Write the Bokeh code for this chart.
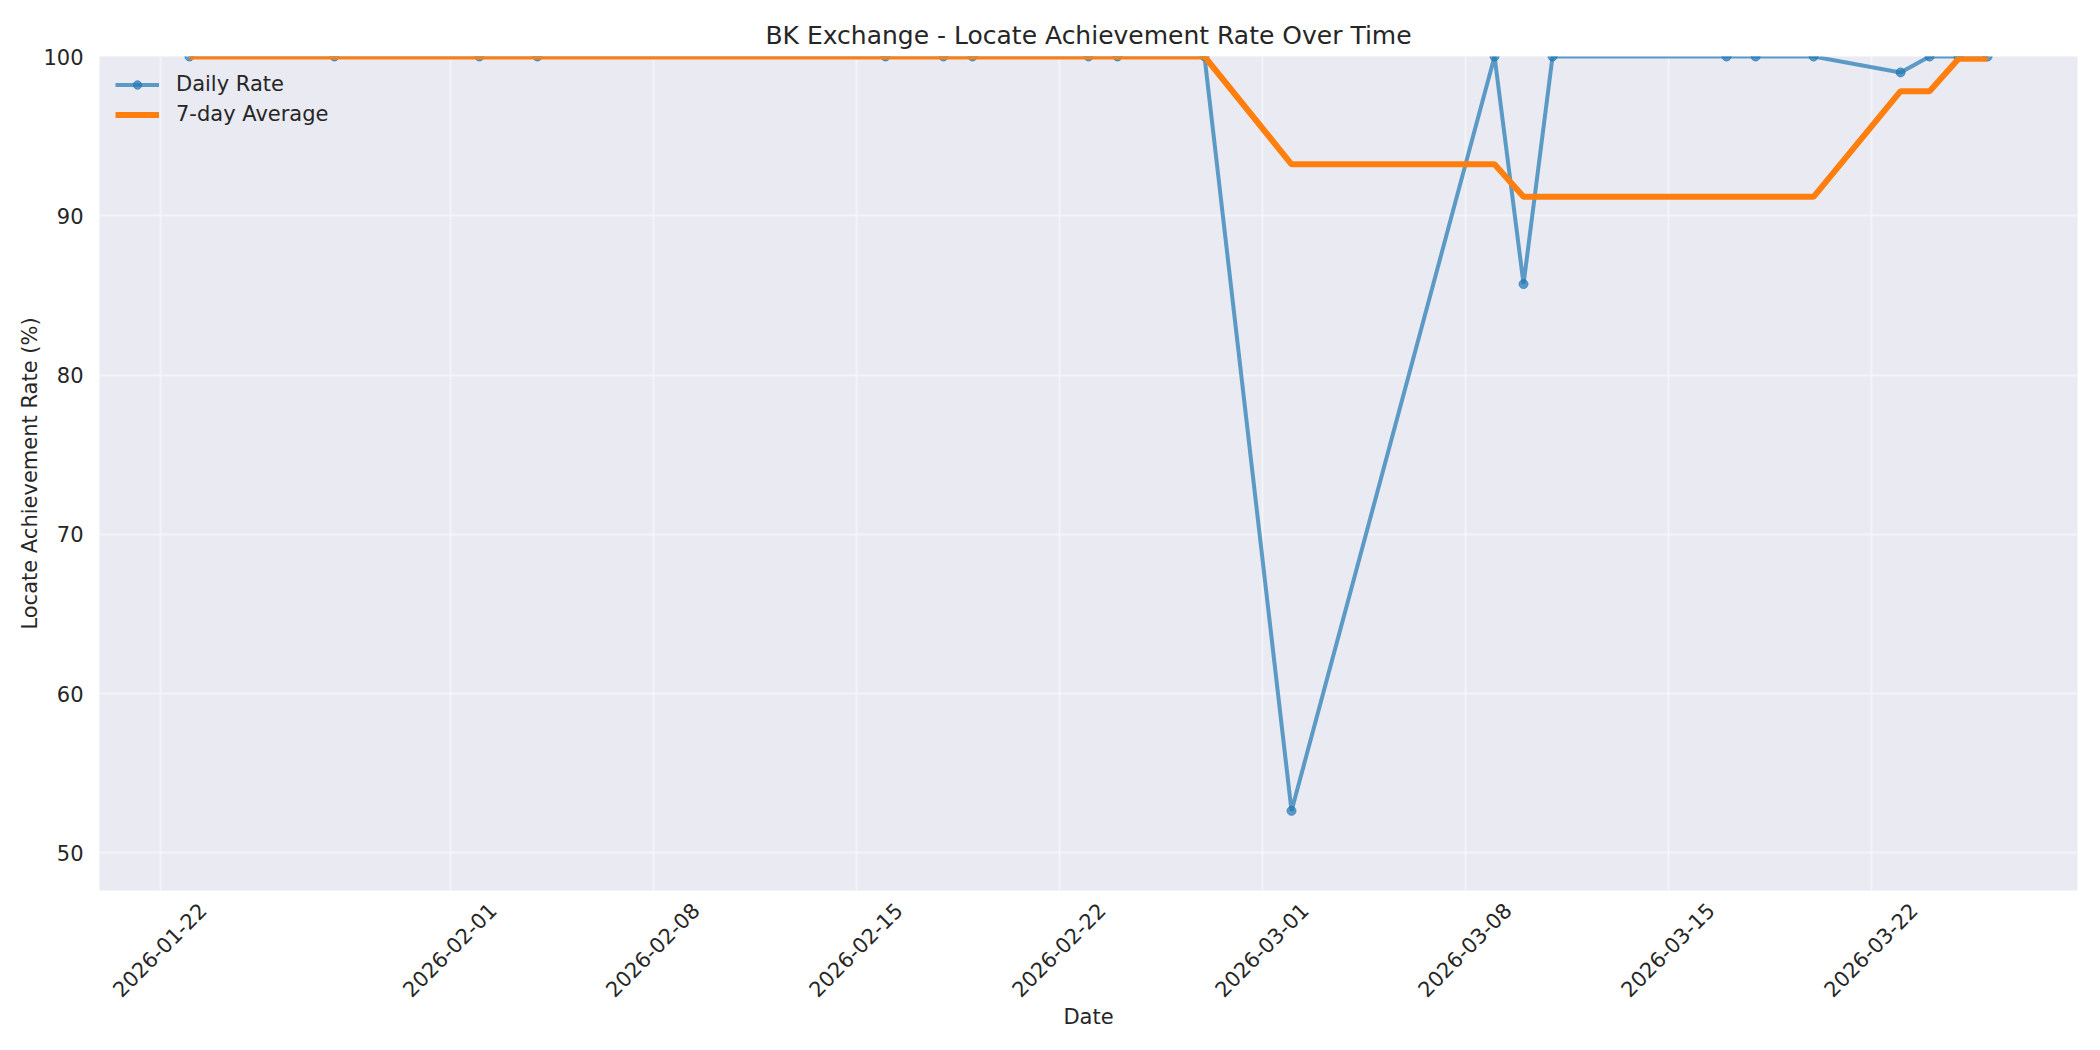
import datetime as dt
from bokeh.plotting import figure
from bokeh.models import Range1d, FixedTicker, Legend
from bokeh.embed import file_html
from bokeh.resources import INLINE
import math

# ---- data ----
dates = ["2026-01-23", "2026-01-28", "2026-02-02", "2026-02-04", "2026-02-16",
         "2026-02-18", "2026-02-19", "2026-02-23", "2026-02-24", "2026-02-27",
         "2026-03-02", "2026-03-09", "2026-03-10", "2026-03-11", "2026-03-17",
         "2026-03-18", "2026-03-20", "2026-03-23", "2026-03-24", "2026-03-25",
         "2026-03-26"]
daily_rate = [100, 100, 100, 100, 100, 100, 100, 100, 100, 100,
              52.63, 100, 85.71, 100, 100, 100, 100, 99.0, 100, 100, 100]
avg_7day = [100, 100, 100, 100, 100, 100, 100, 100, 100, 100,
            93.23, 93.23, 91.19, 91.19, 91.19, 91.19, 91.19, 97.82, 97.82, 99.86, 99.86]
tick_dates = ["2026-01-22", "2026-02-01", "2026-02-08", "2026-02-15", "2026-02-22",
              "2026-03-01", "2026-03-08", "2026-03-15", "2026-03-22"]
y_ticks = [50, 60, 70, 80, 90, 100]

x = [dt.datetime.strptime(d, "%Y-%m-%d") for d in dates]
epoch = dt.datetime(1970, 1, 1)
tick_ms = [(dt.datetime.strptime(d, "%Y-%m-%d") - epoch).total_seconds() * 1000 for d in tick_dates]

# rotated labels are anchored at their end in Bokeh; place the label anchor
# so that each rotated label is centred on its grid line (as in the reference)
DAY_MS = 86400000.0
label_shift = 1.45 * DAY_MS
label_pos = [t + label_shift for t in tick_ms]

FONT = "DejaVu Sans"
TXT = "#262626"

span = x[-1] - x[0]
pad = span * 0.05

p = figure(width=2084, height=1034, x_axis_type="datetime",
           output_backend="svg", toolbar_location=None,
           x_range=Range1d(x[0] - pad, x[-1] + pad),
           y_range=Range1d(47.63, 100),
           min_border_left=99, min_border_right=7,
           min_border_top=56, min_border_bottom=144,
           background_fill_color="#EAEAF2", border_fill_color="white",
           title="BK Exchange - Locate Achievement Rate Over Time")
p.outline_line_color = None

p.title.align = "center"
p.title.text_font = FONT
p.title.text_font_size = "25px"
p.title.text_font_style = "normal"
p.title.text_color = TXT
p.title.standoff = 13

# axes
p.xaxis.ticker = FixedTicker(ticks=label_pos)
p.xaxis.major_label_overrides = {lp: d for lp, d in zip(label_pos, tick_dates)}
p.xaxis.major_label_orientation = math.pi / 4
p.xgrid.ticker = FixedTicker(ticks=tick_ms)
p.yaxis.ticker = FixedTicker(ticks=y_ticks)
for ax in (p.xaxis[0], p.yaxis[0]):
    ax.axis_line_color = None
    ax.major_tick_line_color = None
    ax.minor_tick_line_color = None
    ax.major_label_text_font = FONT
    ax.major_label_text_font_size = "21px"
    ax.major_label_text_color = TXT
    ax.major_label_standoff = 10
    ax.axis_label_text_font = FONT
    ax.axis_label_text_font_size = "21px"
    ax.axis_label_text_font_style = "normal"
    ax.axis_label_text_color = TXT
p.xaxis.axis_label = "Date"
p.yaxis.axis_label = "Locate Achievement Rate (%)"
p.xaxis.axis_label_standoff = -2
p.yaxis.axis_label_standoff = -2

# grid
p.grid.grid_line_color = "white"
p.grid.grid_line_alpha = 0.45
p.grid.grid_line_width = 2

# series
l1 = p.line(x, daily_rate, line_color="#1f77b4", line_alpha=0.7, line_width=4)
s1 = p.scatter(x, daily_rate, size=9, fill_color="#1f77b4", line_color="#1f77b4",
               fill_alpha=0.7, line_alpha=0.7)
l2 = p.line(x, avg_7day, line_color="#ff7f0e", line_width=6)

legend = Legend(items=[("Daily Rate", [l1, s1]), ("7-day Average", [l2])],
                location="top_left")
legend.background_fill_alpha = 0
legend.border_line_alpha = 0
legend.label_text_font = FONT
legend.label_text_font_size = "21px"
legend.label_text_color = TXT
legend.glyph_width = 44
legend.glyph_height = 21
legend.label_height = 21
legend.label_standoff = 17
legend.spacing = 6
legend.margin = 10
legend.padding = 6
p.add_layout(legend)

open("out.html", "w").write(file_html(p, INLINE))
